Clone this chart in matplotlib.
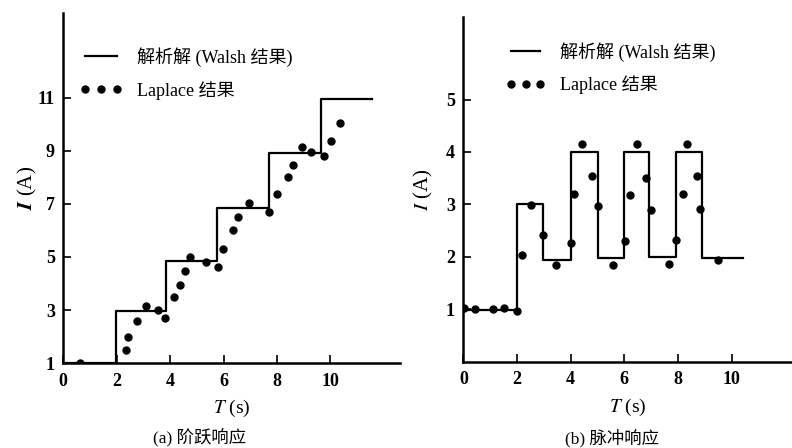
import matplotlib
matplotlib.use("Agg")
import matplotlib.pyplot as plt
from matplotlib.lines import Line2D

# ---------------- data ----------------
# (a) step response: Walsh (analytic) staircase
step_t = [0.0, 1.96, 3.84, 5.75, 7.69, 9.65, 11.56]
step_I = [1.0, 2.95, 4.85, 6.85, 8.93, 10.97, 10.97]
# (a) Laplace points
lap_a_t = [0.63, 2.35, 2.41, 2.76, 3.10, 3.56, 3.81, 4.14, 4.38, 4.54, 4.75,
           5.34, 5.79, 5.98, 6.34, 6.55, 6.94, 7.69, 8.00, 8.40, 8.60, 8.94,
           9.29, 9.75, 10.03, 10.35]
lap_a_I = [1.0, 1.49, 2.0, 2.6, 3.15, 3.0, 2.69, 3.5, 3.94, 4.48, 5.01,
           4.82, 4.61, 5.29, 6.02, 6.5, 7.05, 6.70, 7.37, 8.03, 8.47, 9.16,
           8.96, 8.81, 9.39, 10.04]

# (b) pulse response: Walsh (analytic) staircase
pulse_t = [0.0, 2.0, 2.96, 4.0, 5.01, 5.99, 6.93, 7.93, 8.89, 10.44]
pulse_I = [0.985, 3.0, 1.94, 4.0, 1.98, 4.0, 1.99, 4.0, 1.97, 1.97]
# (b) Laplace points
lap_b_t = [0.03, 0.44, 1.10, 1.52, 1.99, 2.18, 2.51, 2.98, 3.46, 4.01, 4.13,
           4.41, 4.78, 5.03, 5.57, 6.03, 6.21, 6.46, 6.80, 7.00, 7.68, 7.92,
           8.20, 8.33, 8.70, 8.82, 9.48]
lap_b_I = [1.02, 1.0, 1.0, 1.03, 0.96, 2.03, 2.99, 2.41, 1.85, 2.26, 3.2,
           4.15, 3.55, 2.97, 1.85, 2.31, 3.17, 4.15, 3.5, 2.9, 1.86, 2.33,
           3.2, 4.15, 3.55, 2.92, 1.94]

xticks = [0, 2, 4, 6, 8, 10]
a_yticks = [1, 3, 5, 7, 9, 11]
b_yticks = [1, 2, 3, 4, 5]

legend_labels = ["解析解 (Walsh 结果)", "Laplace 结果"]
captions = ["(a) 阶跃响应", "(b) 脉冲响应"]

# ---------------- style ----------------
fam = ["Liberation Serif", "Noto Sans CJK SC", "DejaVu Sans"]
plt.rcParams["font.family"] = fam
plt.rcParams["mathtext.fontset"] = "stix"

fig = plt.figure(figsize=(7.92, 4.48), dpi=100)
axA = fig.add_axes([0.0799, 0.1897, 0.425, 0.781])
axB = fig.add_axes([0.585, 0.1926, 0.415, 0.769])

def style(ax, yt, ylim, xlim):
    for s in ["top", "right"]:
        ax.spines[s].set_visible(False)
    for s in ["left", "bottom"]:
        ax.spines[s].set_linewidth(1.8)
    ax.set_xlim(*xlim)
    ax.set_ylim(*ylim)
    ax.set_xticks(xticks)
    ax.set_yticks(yt)
    ax.tick_params(direction="in", length=6, width=1.2, labelsize=13)
    for lab in ax.get_xticklabels() + ax.get_yticklabels():
        lab.set_fontweight("bold")
        lab.set_family(["Liberation Serif"])
    ax.tick_params(axis="x", pad=7)
    ax.tick_params(axis="y", pad=6)
    ax.set_xlabel("$T$ (s)", fontsize=14, labelpad=6)

style(axA, a_yticks, (1, 14.2), (0, 12.6))
style(axB, b_yticks, (0, 6.57), (0, 12.25))

axA.step(step_t, step_I, where="post", color="black", lw=1.6)
axA.plot(lap_a_t, lap_a_I, "o", color="black", ms=5)
axB.step(pulse_t, pulse_I, where="post", color="black", lw=1.6)
axB.plot(lap_b_t, lap_b_I, "o", color="black", ms=5)

axA.set_ylabel("$\\mathbfit{I}$ (A)", fontsize=15, labelpad=-1)
axB.set_ylabel("$I$ (A)", fontsize=15, labelpad=8)

handles = [Line2D([], [], color="black", lw=1.6),
           Line2D([], [], color="black", ls="none", marker="o", ms=5)]
axA.legend(handles, legend_labels, loc="upper left", bbox_to_anchor=(0.0, 0.95),
           frameon=False, numpoints=3, handlelength=2.4,
           handletextpad=0.8, labelspacing=0.8,
           prop={"family": fam, "size": 13})
axB.legend(handles, legend_labels, loc="upper left", bbox_to_anchor=(0.08, 0.975),
           frameon=False, numpoints=3, handlelength=2.2,
           handletextpad=0.8, labelspacing=0.75,
           prop={"family": fam, "size": 13})

fig.text(200 / 792, 1 - 438 / 448, captions[0], ha="center", va="center", fontsize=12.5, family=fam)
fig.text(612 / 792, 1 - 438 / 448, captions[1], ha="center", va="center", fontsize=12.5, family=fam)

fig.savefig("out.png", dpi=100)
